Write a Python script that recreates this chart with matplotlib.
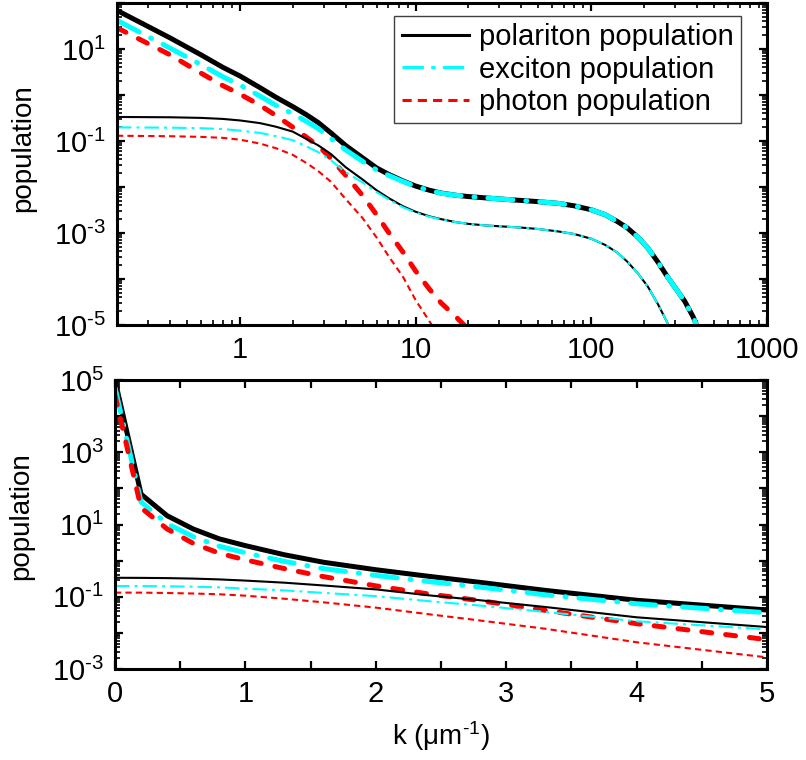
import numpy as np
import matplotlib
matplotlib.use('Agg')
import matplotlib.pyplot as plt
from matplotlib.ticker import LogLocator, FuncFormatter, MultipleLocator, NullFormatter

plt.rcParams['font.family'] = ['Liberation Sans', 'DejaVu Sans']
plt.rcParams['mathtext.fontset'] = 'custom'
plt.rcParams['mathtext.rm'] = 'Liberation Sans'
plt.rcParams['mathtext.it'] = 'Liberation Sans:italic'
plt.rcParams['mathtext.bf'] = 'Liberation Sans:bold'

nan = np.nan

# wavevector grid (um^-1)
k = np.array([0, 0.2, 0.4, 0.6, 0.8, 1.0, 1.3, 1.6, 2.0, 2.4, 2.8, 3.3, 4.0, 5.0,
              6.0, 7.0, 8.5, 10, 12, 14, 17, 20, 25, 32, 40, 50, 65, 80, 100,
              120, 140, 160, 185, 210, 240, 270, 300, 340, 380, 420])

# high density (thick lines)
pol_hi = np.array([1.0e5, 69, 17.5, 7.5, 4.0, 2.6, 1.45, 0.9, 0.56, 0.37, 0.25, 0.15, 0.08, 0.043,
                   0.026, 0.019, 0.0135, 0.0105, 0.0085, 0.0074, 0.0066, 0.0062, 0.0058, 0.0054,
                   0.0051, 0.0048, 0.0044, 0.0039, 0.0032, 0.0025, 0.0018, 0.0013, 8.0e-4, 4.7e-4,
                   2.3e-4, 1.15e-4, 6.5e-5, 3.3e-5, 1.5e-5, 6e-6])
exc_hi = np.array([6.2e4, 42, 10.5, 4.6, 2.5, 1.65, 0.95, 0.6, 0.39, 0.265, 0.185, 0.113, 0.064, 0.036,
                   0.0235, 0.018, 0.0131, 0.0103, 0.0084, 0.0073, 0.0066, 0.0062, 0.0058, 0.0054,
                   0.0051, 0.0048, 0.0044, 0.0039, 0.0032, 0.0025, 0.0018, 0.0013, 8.0e-4, 4.7e-4,
                   2.3e-4, 1.15e-4, 6.5e-5, 3.3e-5, 1.5e-5, 6e-6])
phot_hi = np.array([3.8e4, 29, 7.5, 3.0, 1.6, 1.05, 0.6, 0.36, 0.2, 0.12, 0.078, 0.042, 0.018, 0.0065,
                    0.0025, 1.05e-3, 3.8e-4, 1.5e-4, 6e-5, 3e-5, 1.5e-5, 8e-6, 3e-6,
                    nan, nan, nan, nan, nan, nan, nan, nan, nan, nan, nan, nan, nan, nan, nan, nan, nan])

# low density (thin lines)
pol_lo = np.array([0.335, 0.333, 0.328, 0.318, 0.302, 0.28, 0.245, 0.205, 0.16, 0.11, 0.08, 0.052, 0.027,
                   0.0145, 0.0085, 0.0058, 0.0038, 0.0029, 0.0023, 0.0020, 0.00172, 0.00158, 0.00146,
                   0.00138, 0.00131, 0.00122, 0.00108, 9.5e-4, 7.5e-4, 5.5e-4, 3.8e-4, 2.4e-4, 1.3e-4,
                   6.8e-5, 2.8e-5, 1.15e-5, 4.5e-6, nan, nan, nan])
exc_lo = np.array([0.198, 0.198, 0.195, 0.19, 0.182, 0.168, 0.15, 0.128, 0.104, 0.076, 0.057, 0.038, 0.021,
                   0.0125, 0.0077, 0.0054, 0.0036, 0.0028, 0.00225, 0.00198, 0.00172, 0.00158, 0.00146,
                   0.00138, 0.00131, 0.00122, 0.00108, 9.5e-4, 7.5e-4, 5.5e-4, 3.8e-4, 2.4e-4, 1.3e-4,
                   6.8e-5, 2.8e-5, 1.15e-5, 4.5e-6, nan, nan, nan])
phot_lo = np.array([0.13, 0.13, 0.127, 0.123, 0.117, 0.107, 0.088, 0.07, 0.05, 0.033, 0.022, 0.013, 0.0055,
                    0.0021, 8e-4, 3.2e-4, 1.1e-4, 3.5e-5, 1.2e-5, 5e-6,
                    nan, nan, nan, nan, nan, nan, nan, nan, nan, nan, nan, nan, nan, nan, nan, nan, nan,
                    nan, nan, nan])

labels = ['polariton population', 'exciton population', 'photon population']

lw_hi = 3.6
lw_lo = 1.5
style_hi = [dict(color='black', ls='-', lw=lw_hi),
            dict(color='cyan', ls=(0, (5, 2.6, 0.2, 2.6)), lw=lw_hi, dash_capstyle='round'),
            dict(color='red', ls=(0, (2.0, 2.8)), lw=lw_hi, dash_capstyle='round')]
style_lo = [dict(color='black', ls='-', lw=lw_lo),
            dict(color='cyan', ls=(0, (7, 2.4, 1.4, 2.4)), lw=lw_lo),
            dict(color='red', ls=(0, (3, 2)), lw=lw_lo)]

fig = plt.figure(figsize=(8.06, 7.6), dpi=100)
ax1 = fig.add_axes([117 / 806, 435 / 760, 650 / 806, 322 / 760])
ax2 = fig.add_axes([115 / 806, 91 / 760, 652 / 806, 289 / 760])


def ylab(v, pos):
    e = int(round(np.log10(v)))
    if e % 2 == 0:
        return ''
    if e < 0:
        return r'$\mathregular{10^{\text{-}%d}}$' % (-e)
    return r'$\mathregular{10^{%d}}$' % e


def style_axes(ax):
    ax.tick_params(which='both', direction='in', top=True, right=True, labelsize=21)
    ax.tick_params(which='major', length=6, width=1.6, pad=8)
    ax.tick_params(which='minor', length=3.5, width=1.2)
    for s in ax.spines.values():
        s.set_linewidth(2.2)
    ax.set_ylabel('population', fontsize=20)


# top panel: log-log
pos = k > 0
hi = [pol_hi, exc_hi, phot_hi]
lo = [pol_lo, exc_lo, phot_lo]
for y, st in zip(hi, style_hi):
    ax1.plot(k[pos], y[pos], **st)
for y, st, lab in zip(lo, style_lo, labels):
    ax1.plot(k[pos], y[pos], label=lab, **st)
ax1.set_xscale('log')
ax1.set_yscale('log')
ax1.set_xlim(0.2, 1000)
ax1.set_ylim(1e-5, 1e2)
ax1.xaxis.set_major_locator(LogLocator(base=10, numticks=30))
ax1.xaxis.set_minor_locator(LogLocator(base=10, subs=np.arange(2, 10), numticks=30))
ax1.xaxis.set_major_formatter(FuncFormatter(lambda v, p: '%d' % v))
ax1.xaxis.set_minor_formatter(NullFormatter())
ax1.yaxis.set_major_locator(LogLocator(base=10, numticks=30))
ax1.yaxis.set_minor_locator(LogLocator(base=10, subs=np.arange(2, 10), numticks=30))
ax1.yaxis.set_major_formatter(FuncFormatter(ylab))
ax1.yaxis.set_minor_formatter(NullFormatter())
style_axes(ax1)
ax1.yaxis.set_label_coords(-0.124, 0.55)

leg = ax1.legend(loc='upper right', bbox_to_anchor=(0.96, 0.96), borderaxespad=0,
                 fontsize=21, fancybox=False, framealpha=1, edgecolor='0.25',
                 handlelength=2.3, handletextpad=0.35, labelspacing=0.15, borderpad=0.25)
leg.get_frame().set_linewidth(1.0)
for ln in leg.get_lines():
    ln.set_linewidth(2.2)

# bottom panel: linear k, log population
sel = k <= 5
for y, st in zip(hi, style_hi):
    ax2.plot(k[sel], y[sel], **st)
for y, st in zip(lo, style_lo):
    ax2.plot(k[sel], y[sel], **st)
ax2.set_yscale('log')
ax2.set_xlim(0, 5)
ax2.set_ylim(1e-3, 1e5)
ax2.xaxis.set_major_locator(MultipleLocator(1))
ax2.xaxis.set_minor_locator(MultipleLocator(0.5))
ax2.yaxis.set_major_locator(LogLocator(base=10, numticks=30))
ax2.yaxis.set_minor_locator(LogLocator(base=10, subs=np.arange(2, 10), numticks=30))
ax2.yaxis.set_major_formatter(FuncFormatter(ylab))
ax2.yaxis.set_minor_formatter(NullFormatter())
style_axes(ax2)
ax2.tick_params(axis='x', which='minor', length=6, width=1.6)
ax2.yaxis.set_label_coords(-0.124, 0.53)
ax2.set_xlabel('k (\u03bcm$^{\\mathregular{\\text{-}1}}$)', fontsize=20, labelpad=8)

fig.savefig('out.png', dpi=100)
